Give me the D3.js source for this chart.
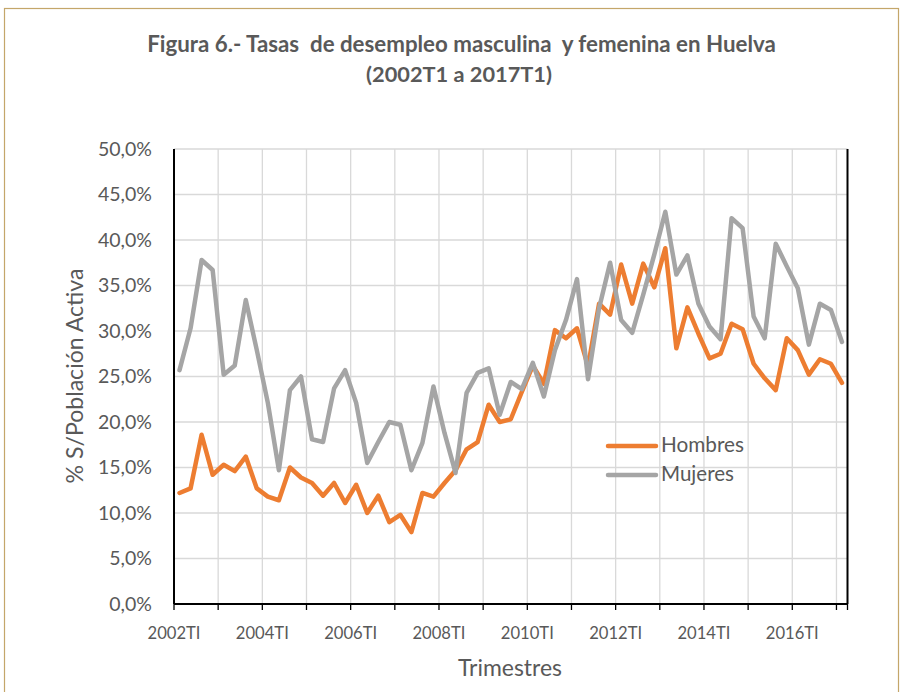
<!DOCTYPE html>
<html>
<head>
<meta charset="utf-8">
<script src="https://cdn.jsdelivr.net/npm/d3@7"></script>
<style>
  html, body { margin: 0; padding: 0; background: #fff; }
  svg { display: block; }
  text { font-family: Lato, "Open Sans", "Liberation Sans", sans-serif; fill: #595959; }
</style>
</head>
<body>
<svg id="chart" width="903" height="692"></svg>
<script>
// ---- data ----
const years = [2002,2003,2004,2005,2006,2007,2008,2009,2010,2011,2012,2013,2014,2015,2016,2017];
const quarters = ["TI","TII","TIII","TIV"];
const tickLabels = ["2002TI","2004TI","2006TI","2008TI","2010TI","2012TI","2014TI","2016TI"];
const hombres = [12.2,12.7,18.6,14.2,15.3,14.6,16.2,12.7,11.8,11.4,15.0,13.9,13.3,11.9,13.3,11.1,
  13.1,10.0,11.9,9.0,9.8,7.9,12.2,11.8,13.3,14.7,17.0,17.8,21.9,20.0,20.3,23.3,
  26.2,24.2,30.1,29.2,30.3,26.1,33.0,31.8,37.3,33.0,37.4,34.8,39.1,28.1,32.6,29.7,
  27.0,27.5,30.8,30.2,26.4,24.8,23.5,29.2,27.9,25.2,26.9,26.4,24.3];
const mujeres = [25.7,30.3,37.8,36.7,25.2,26.2,33.4,27.9,22.1,14.7,23.5,25.0,18.1,17.8,23.7,25.7,
  22.1,15.5,17.8,20.0,19.7,14.7,17.7,23.9,18.8,14.4,23.2,25.4,25.9,20.8,24.4,23.6,
  26.5,22.8,27.9,31.2,35.7,24.7,32.5,37.5,31.2,29.8,34.0,38.4,43.1,36.2,38.3,33.0,
  30.5,29.1,42.4,41.3,31.6,29.2,39.6,37.1,34.7,28.5,33.0,32.3,28.8];
const yTicks = [0,5,10,15,20,25,30,35,40,45,50];
const seriesNames = ["Hombres","Mujeres"];
const seriesColors = ["#ED7D31","#A5A5A5"];

const categories = [];
years.forEach(y => quarters.forEach(q => categories.push(y + q)));
categories.length = hombres.length; // 2002TI .. 2017TI

// ---- layout ----
const svg = d3.select("#chart");
const W = 903, H = 692;
const plot = {left: 174, right: 847.5, top: 149, bottom: 604};

function fit(sel, target) {
  const fs = parseFloat(sel.attr("font-size"));
  const w = sel.node().getComputedTextLength();
  sel.attr("font-size", (fs * target / w).toFixed(2));
}

// outer frame
svg.append("rect").attr("x", 4.5).attr("y", 8.5).attr("width", W - 9).attr("height", H)
  .attr("fill", "#fff").attr("stroke", "#C4A66A").attr("stroke-width", 1.2);

// scales
const x = d3.scaleBand().domain(categories).range([plot.left, plot.right]).padding(0);
const y = d3.scaleLinear().domain([0, 50]).range([plot.bottom, plot.top]);
const cx = c => x(c) + x.bandwidth() / 2;

// gridlines
const g = svg.append("g");
g.selectAll(".hg").data(yTicks).join("line")
  .attr("x1", plot.left).attr("x2", plot.right)
  .attr("y1", d => y(d)).attr("y2", d => y(d))
  .attr("stroke", "#D9D9D9").attr("stroke-width", 1.3);
const boundaryCats = categories.filter((c, i) => i % 4 === 0 && i > 0);
g.selectAll(".vg").data(boundaryCats).join("line")
  .attr("x1", d => x(d)).attr("x2", d => x(d))
  .attr("y1", plot.top).attr("y2", plot.bottom)
  .attr("stroke", "#D9D9D9").attr("stroke-width", 1.3);

// y axis labels
const yAxis = d3.axisLeft(y).tickValues(yTicks).tickSize(0).tickPadding(22)
  .tickFormat(d => d3.format(".1f")(d).replace(".", ",") + "%");
const yg = svg.append("g").attr("transform", `translate(${plot.left},0)`).call(yAxis);
yg.select(".domain").remove();
yg.selectAll("text").attr("font-size", 17).attr("fill", "#595959")
  .style("font-family", "Lato, 'Open Sans', sans-serif");
// fit size
{
  const t = yg.selectAll("text").filter(d => d === 50);
  const w = t.node().getComputedTextLength();
  const fs = 17 * 54 / w;
  yg.selectAll("text").attr("font-size", fs.toFixed(2));
}

// x axis ticks (every 4 categories, at boundaries) and labels
const tickCats = categories.filter((c, i) => i % 4 === 0);
const xAxis = d3.axisBottom(x).tickValues(tickCats).tickSize(6).tickFormat(() => "");
const xg = svg.append("g").attr("transform", `translate(0,${plot.bottom})`).call(xAxis);
xg.select(".domain").remove();
xg.selectAll(".tick").attr("transform", d => `translate(${x(d)},0)`);
xg.selectAll(".tick line").attr("stroke", "#000").attr("stroke-width", 1.3);
// right end tick
svg.append("line").attr("x1", plot.right).attr("x2", plot.right)
  .attr("y1", plot.bottom).attr("y2", plot.bottom + 6).attr("stroke", "#000").attr("stroke-width", 1.3);

const xl = svg.append("g").selectAll("text").data(tickLabels).join("text")
  .attr("x", d => x(d)).attr("y", plot.bottom + 35)
  .attr("text-anchor", "middle").attr("font-size", 17).text(d => d);
{
  const w = xl.node().getComputedTextLength();
  xl.attr("font-size", (17 * 53 / w).toFixed(2));
}

// axis lines / plot border
svg.append("line").attr("x1", plot.left).attr("x2", plot.right).attr("y1", plot.bottom).attr("y2", plot.bottom)
  .attr("stroke", "#000").attr("stroke-width", 2);
svg.append("line").attr("x1", plot.left).attr("x2", plot.left).attr("y1", plot.top).attr("y2", plot.bottom)
  .attr("stroke", "#000").attr("stroke-width", 2);
svg.append("line").attr("x1", plot.right).attr("x2", plot.right).attr("y1", plot.top).attr("y2", plot.bottom)
  .attr("stroke", "#000").attr("stroke-width", 2);

// lines
const line = d3.line().x((d, i) => cx(categories[i])).y(d => y(d));
[hombres, mujeres].forEach((s, k) => {
  svg.append("path").datum(s).attr("d", line)
    .attr("fill", "none").attr("stroke", seriesColors[k]).attr("stroke-width", 4.5)
    .attr("stroke-linejoin", "round").attr("stroke-linecap", "round");
});

// legend
const legY = [446, 475];
seriesNames.forEach((n, k) => {
  svg.append("line").attr("x1", 608).attr("x2", 656).attr("y1", legY[k]).attr("y2", legY[k])
    .attr("stroke", seriesColors[k]).attr("stroke-width", 4.5).attr("stroke-linecap", "round");
  const t = svg.append("text").attr("x", 661).attr("y", legY[k] + 6).attr("font-size", 17).text(n);
  if (k === 0) fit(t, 83); else fit(t, 73);
});

// titles
const t1 = svg.append("text").attr("x", 461.5).attr("y", 52).attr("text-anchor", "middle")
  .attr("font-size", 18).attr("font-weight", "bold")
  .text("Figura 6.- Tasas  de desempleo masculina  y femenina en Huelva").style("white-space", "pre");
fit(t1, 629);
const t2 = svg.append("text").attr("x", 459).attr("y", 82).attr("text-anchor", "middle")
  .attr("font-size", 18).attr("font-weight", "bold").text("(2002T1 a 2017T1)");
fit(t2, 186);

// axis titles
const yt = svg.append("text").attr("transform", "translate(83,376) rotate(-90)")
  .attr("text-anchor", "middle").attr("font-size", 19).text("% S/Población Activa");
fit(yt, 215);
const xt = svg.append("text").attr("x", 510).attr("y", 676).attr("text-anchor", "middle")
  .attr("font-size", 19).text("Trimestres");
fit(xt, 104);
</script>
</body>
</html>
